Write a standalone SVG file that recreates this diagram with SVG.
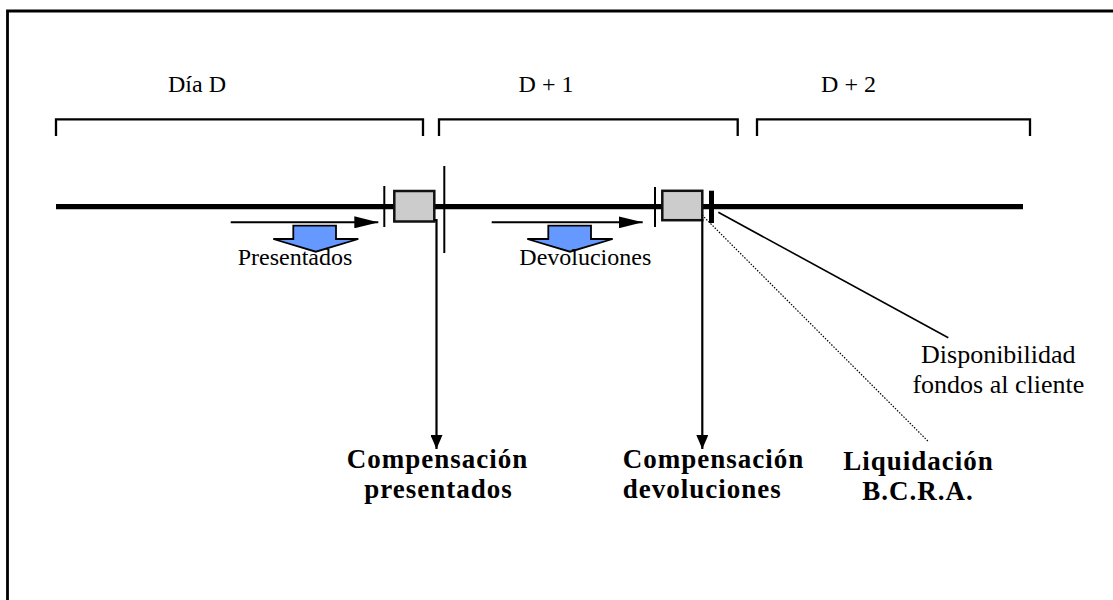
<svg xmlns="http://www.w3.org/2000/svg" width="1113" height="600" viewBox="0 0 1113 600">
<style>
.lbl{font-family:"Liberation Serif","Times New Roman",serif;font-size:24px;fill:#000;text-anchor:middle}
.lbl2{font-family:"Liberation Serif","Times New Roman",serif;font-size:26px;fill:#000;text-anchor:middle}
.bold{font-family:"Liberation Serif","Times New Roman",serif;font-size:27px;letter-spacing:1px;font-weight:bold;fill:#000;text-anchor:middle}
.brk{fill:none;stroke:#000;stroke-width:2.3}
.tick{stroke:#000;stroke-width:2}
.box{fill:#cccccc;stroke:#111;stroke-width:2.5}
.blk{fill:#6699ff;stroke:#000;stroke-width:1.8;stroke-linejoin:miter}
.ln{fill:none;stroke:#000}
</style>
<defs>
<marker id="ah" viewBox="0 0 24 12" refX="24" refY="6" markerUnits="userSpaceOnUse" markerWidth="24" markerHeight="12" orient="auto">
<path d="M0,0 L24,6 L0,12 Z" fill="#000"/>
</marker>
<marker id="av" viewBox="0 0 14 12" refX="14" refY="6" markerUnits="userSpaceOnUse" markerWidth="14" markerHeight="12" orient="auto">
<path d="M0,0 L14,6 L0,12 Z" fill="#000"/>
</marker>
</defs>
<g id="frame">
<path d="M7.5,600 V11 H1113" fill="none" stroke="#000" stroke-width="2.8"/>
</g>
<g id="day-d">
<path class="brk" d="M56,136 V119.3 H423 V136"/>
<text class="lbl" x="197" y="92">Día D</text>
</g>
<g id="day-d1">
<path class="brk" d="M439,136 V119.3 H737.7 V136"/>
<text class="lbl" x="546" y="92">D + 1</text>
</g>
<g id="day-d2">
<path class="brk" d="M757,136 V119.3 H1030 V136"/>
<text class="lbl" x="848.5" y="92">D + 2</text>
</g>
<g id="timeline">
<line x1="56" y1="206.7" x2="1023" y2="206.7" stroke="#000" stroke-width="5.3"/>
<line class="tick" x1="384.3" y1="186" x2="384.3" y2="227"/>
<line class="tick" x1="444.3" y1="166" x2="444.3" y2="253"/>
<line class="tick" x1="655" y1="187" x2="655" y2="227"/>
<line x1="711.5" y1="190.7" x2="711.5" y2="223" stroke="#000" stroke-width="5"/>
</g>
<g id="box-presentados">
<rect class="box" x="394.3" y="191" width="40" height="30.5"/>
</g>
<g id="box-devoluciones">
<rect class="box" x="662.3" y="190.8" width="40" height="29.4"/>
</g>
<g id="flow-presentados">
<path class="blk" d="M293.3,225.7 H336 V239 H358.3 L315.8,251.7 L273.3,239 H293.3 Z"/>
<text class="lbl" x="295" y="265">Presentados</text>
</g>
<g id="flow-devoluciones">
<path class="blk" d="M548.3,225.7 H591 V239 H612.7 L570,251.7 L527.3,239 H548.3 Z"/>
<text class="lbl" x="585.3" y="265">Devoluciones</text>
</g>
<g id="connectors">
<line class="ln" x1="230.7" y1="222.3" x2="378.3" y2="222.3" stroke-width="2" marker-end="url(#ah)"/>
<line class="ln" x1="491.7" y1="222.3" x2="642.7" y2="222.3" stroke-width="2" marker-end="url(#ah)"/>
<path class="ln" d="M434.3,220 H436.5 V449" stroke-width="2.2" marker-end="url(#av)"/>
<path class="ln" d="M702.3,219 V449" stroke-width="2.2" marker-end="url(#av)"/>
<line class="ln" x1="718.3" y1="212.3" x2="948.3" y2="337.7" stroke-width="1.6"/>
<line class="ln" x1="702" y1="215" x2="928.3" y2="441.5" stroke-width="1.2" stroke-dasharray="1.5,1.5"/>
</g>
<g id="disponibilidad">
<text class="lbl2" x="998.3" y="363.3">Disponibilidad</text>
<text class="lbl2" x="998.3" y="393.3">fondos al cliente</text>
</g>
<g id="comp-presentados">
<text class="bold" x="437.5" y="467.5">Compensación</text>
<text class="bold" x="438.5" y="497.5">presentados</text>
</g>
<g id="comp-devoluciones">
<text class="bold" x="622.7" y="467.5" style="text-anchor:start">Compensación</text>
<text class="bold" x="622.7" y="497.5" style="text-anchor:start">devoluciones</text>
</g>
<g id="liquidacion">
<text class="bold" x="918.5" y="469.5">Liquidación</text>
<text class="bold" x="918" y="499.5">B.C.R.A.</text>
</g>
</svg>
